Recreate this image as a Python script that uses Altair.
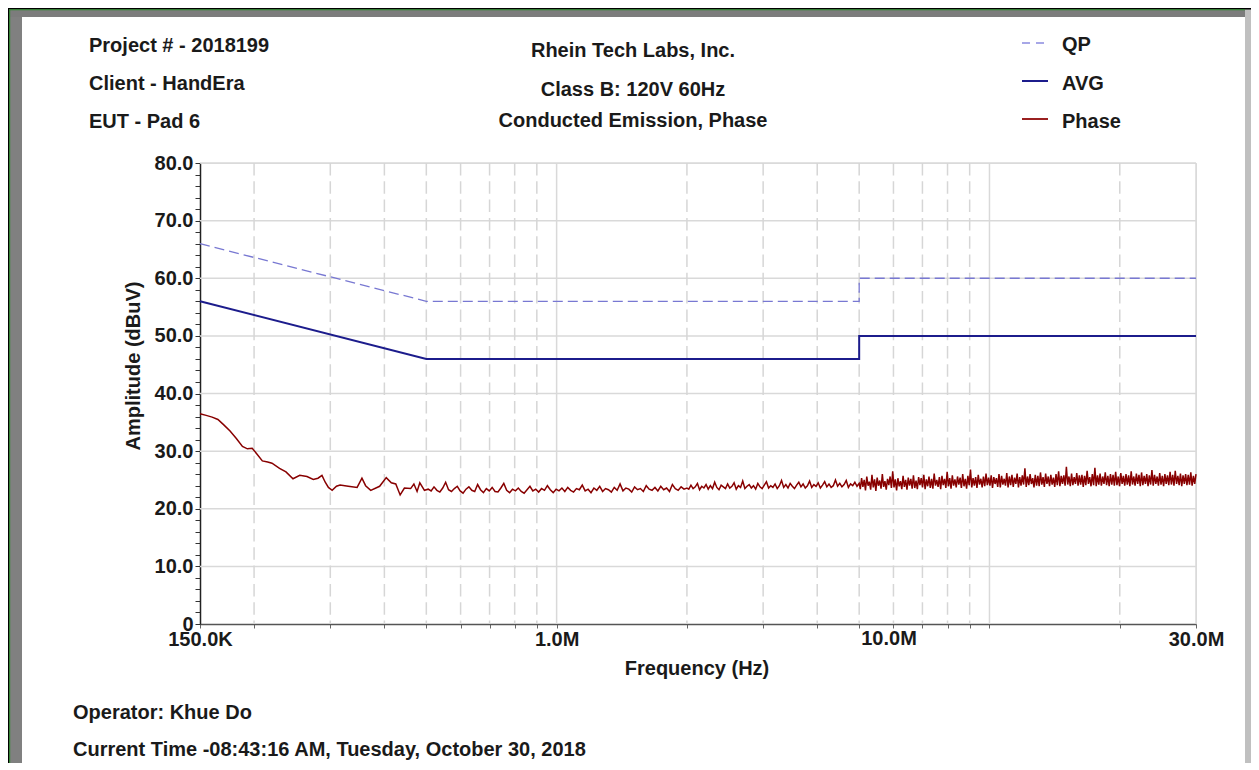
import altair as alt
import pandas as pd
import numpy as np

# ---------------- data ----------------
# limit lines (frequency in MHz, amplitude dBuV)
qp_freq = [0.15, 0.5, 5.0, 5.0, 30.0]
qp_val = [66.0, 56.0, 56.0, 60.0, 60.0]
avg_freq = [0.15, 0.5, 5.0, 5.0, 30.0]
avg_val = [56.0, 46.0, 46.0, 50.0, 50.0]

# measured phase trace, low-frequency part (explicit points)
phase_lo_freq = [0.150, 0.155, 0.160, 0.165, 0.170, 0.176, 0.182, 0.188, 0.193, 0.198,
                 0.203, 0.209, 0.215, 0.220, 0.229, 0.237, 0.246, 0.255, 0.265, 0.274,
                 0.281, 0.287, 0.292, 0.297, 0.303, 0.310, 0.316, 0.330, 0.346, 0.355,
                 0.362, 0.372, 0.390, 0.404, 0.415, 0.425, 0.435, 0.445, 0.460, 0.468,
                 0.476, 0.483, 0.495]
phase_lo_val = [36.5, 36.2, 35.9, 35.5, 34.6, 33.5, 32.2, 30.8, 30.4, 30.5,
                29.5, 28.3, 28.1, 27.9, 27.0, 26.4, 25.2, 25.8, 25.6, 25.1,
                25.3, 25.8, 24.6, 23.7, 23.2, 23.9, 24.1, 23.9, 23.7, 25.3,
                24.0, 23.2, 23.9, 25.4, 24.5, 24.3, 22.4, 23.6, 23.5, 24.3,
                23.0, 24.5, 23.2]

# sweep segments: (start MHz, end MHz) and values
seg_b_range = (0.505, 2.0)
seg_b_val = [23.4, 23.1, 23.8, 23.2, 22.9, 23.6, 24.6, 23.3, 23.0, 23.5,
             23.9, 23.1, 22.7, 23.4, 23.8, 23.2, 23.0, 24.2, 23.3, 22.8,
             23.5, 23.1, 23.7, 23.0, 22.9, 23.6, 24.4, 23.2, 22.8, 23.4,
             23.1, 23.6, 23.0, 22.7, 23.3, 23.9, 23.1, 23.4, 22.9, 23.5,
             23.2, 24.0, 23.3, 22.8, 23.4, 23.1, 23.6, 23.0, 23.7, 23.2,
             22.9, 23.5, 23.3, 24.1, 23.1, 23.4, 22.8, 23.6, 23.2, 23.9,
             23.0, 23.5, 23.3, 22.9, 23.7, 23.2, 24.3, 23.1, 23.6, 23.4,
             22.9, 23.8, 23.3, 23.5, 23.0, 24.0, 23.4, 23.2, 23.7, 23.1,
             23.9, 23.3, 23.6, 23.0, 24.2, 23.5, 23.2, 23.8, 23.4, 23.6]

seg_c_range = (2.02, 5.0)
seg_c_val = [23.4, 24.1, 23.5, 23.8, 24.4, 23.3, 23.9, 23.6, 24.2, 23.4,
             24.0, 23.5, 24.6, 23.7, 23.3, 24.1, 23.8, 23.5, 24.3, 23.6,
             23.9, 24.5, 23.4, 24.0, 23.7, 24.8, 23.5, 23.9, 24.2, 23.6,
             24.0, 23.4, 24.4, 23.8, 23.5, 24.1, 24.7, 23.6, 24.0, 23.7,
             24.3, 23.5, 24.0, 24.9, 23.7, 24.2, 23.6, 24.4, 23.9, 23.5,
             24.1, 24.6, 23.8, 24.3, 23.6, 24.0, 24.8, 23.7, 24.2, 23.9,
             24.5, 23.6, 24.1, 24.7, 23.8, 24.3, 23.7, 24.0, 25.0, 23.9,
             24.4, 23.8, 24.2, 24.9, 23.7, 24.3, 24.0, 24.6, 23.9, 24.4]

seg_d_range = (5.03, 30.0)
seg_d_val = [23.4, 25.3, 23.8, 25.0, 23.2, 25.6, 24.0, 24.7, 23.3, 25.9,
             23.7, 25.1, 23.1, 25.4, 24.0, 24.9, 23.5, 26.0, 23.8, 24.8,
             23.3, 25.2, 24.1, 25.6, 23.6, 26.5, 23.7, 25.1, 23.2, 25.3,
             23.9, 24.8, 23.4, 25.7, 23.8, 25.0, 23.3, 25.4, 24.0, 25.2,
             23.5, 25.8, 23.6, 24.9, 23.4, 25.5, 24.1, 25.3, 23.7, 25.9,
             23.4, 25.1, 23.9, 25.6, 23.6, 25.2, 23.5, 26.1, 24.0, 25.0,
             23.8, 25.5, 23.4, 25.7, 24.1, 25.2, 23.6, 26.4, 23.9, 25.3,
             23.5, 25.8, 24.0, 25.1, 23.7, 25.6, 24.2, 25.4, 23.6, 26.0,
             23.9, 25.2, 23.5, 25.7, 24.1, 26.8, 23.7, 25.3, 24.0, 25.5,
             23.6, 25.9, 24.2, 25.2, 23.7, 25.6, 23.9, 26.1, 24.1, 25.4,
             24.0, 25.8, 23.6, 25.5, 24.3, 25.3, 23.8, 26.0, 23.7, 25.7,
             24.2, 25.2, 24.0, 26.2, 23.7, 25.6, 24.1, 25.9, 23.8, 25.4,
             24.3, 26.1, 23.7, 25.5, 24.0, 25.8, 24.2, 27.0, 23.8, 25.6,
             24.1, 26.0, 24.3, 25.3, 23.7, 25.9, 24.0, 25.7, 23.9, 26.3,
             24.2, 25.5, 23.8, 26.1, 24.3, 25.6, 23.9, 25.9, 24.2, 25.4,
             23.8, 26.0, 24.1, 26.5, 23.9, 25.7, 24.3, 25.8, 24.0, 27.3,
             24.2, 25.6, 23.9, 26.1, 24.1, 25.5, 24.3, 26.2, 24.0, 25.8,
             24.2, 25.9, 23.8, 25.7, 24.1, 26.6, 24.3, 25.5, 23.9, 26.0,
             24.1, 27.1, 23.9, 25.8, 24.2, 26.1, 24.0, 25.6, 24.3, 26.3,
             24.1, 25.7, 23.9, 26.0, 24.2, 25.9, 24.0, 26.4, 24.1, 25.6,
             23.9, 26.2, 24.3, 25.7, 24.0, 26.0, 24.2, 25.8, 23.9, 26.5,
             24.2, 25.6, 24.0, 26.1, 24.3, 25.9, 23.9, 26.3, 24.1, 25.7,
             24.3, 26.0, 23.9, 25.8, 24.2, 26.7, 24.0, 25.9, 24.3, 25.6,
             24.0, 26.2, 24.2, 25.7, 23.9, 26.0, 24.3, 25.8, 24.1, 26.4,
             24.2, 25.9, 24.0, 26.6, 24.3, 25.7, 24.1, 26.1, 23.9, 25.8,
             24.3, 26.0, 24.1, 25.9, 24.2, 26.3, 24.0, 25.7, 24.3, 26.0]

# axis / grid values
x_tick_vals = [0.15, 0.2, 0.3, 0.4, 0.5, 0.6, 0.7, 0.8, 0.9, 1.0,
               2.0, 3.0, 4.0, 5.0, 6.0, 7.0, 8.0, 9.0, 10.0, 20.0, 30.0]
x_tick_labels = {0.15: "150.0K", 1.0: "1.0M", 30.0: "30.0M"}
label_10m = "10.0M"          # printed by the source software left of its gridline
x_grid_dashed = [0.2, 0.3, 0.4, 0.5, 0.6, 0.7, 0.8, 0.9,
                 2.0, 3.0, 4.0, 5.0, 6.0, 7.0, 8.0, 9.0, 20.0]
x_grid_solid = [1.0, 10.0, 30.0]
y_grid = [10, 20, 30, 40, 50, 60, 70, 80]
y_tick_vals = list(range(0, 82, 2))

header_left = ["Project # - 2018199", "Client - HandEra", "EUT - Pad 6"]
header_center = ["Rhein Tech Labs, Inc.", "Class B: 120V 60Hz", "Conducted Emission, Phase"]
legend_names = ["QP", "AVG", "Phase"]
footer = ["Operator: Khue Do", "Current Time -08:43:16 AM, Tuesday, October 30, 2018"]

# ---------------- build tables ----------------
def seg(rng, vals):
    f = np.geomspace(rng[0], rng[1], len(vals))
    return list(f), list(vals)

pf, pv = list(phase_lo_freq), list(phase_lo_val)
for r, v in [(seg_b_range, seg_b_val), (seg_c_range, seg_c_val), (seg_d_range, seg_d_val)]:
    f2, v2 = seg(r, v)
    pf += f2
    pv += v2
phase_df = pd.DataFrame({"f": pf, "v": pv, "i": range(len(pf))})
qp_df = pd.DataFrame({"f": qp_freq, "v": qp_val, "i": range(len(qp_freq))})
avg_df = pd.DataFrame({"f": avg_freq, "v": avg_val, "i": range(len(avg_freq))})

W, H = 996, 461
X0, Y0 = 200, 163  # page position of plot origin
FONT = "Liberation Sans"
FS = 20
TXT = "#1a1a1a"


def px(x):
    return x - X0


def py(y):
    return y - Y0


one = pd.DataFrame({"a": [0]})

xscale = alt.Scale(type="log", domain=[0.15, 30], nice=False)
yscale = alt.Scale(domain=[0, 80], nice=False, zero=False)

label_expr = " : ".join(
    [f"datum.value == {k} ? '{v}'" for k, v in x_tick_labels.items()]) + " : ''"

X_TICK = 4
X_LPAD = 1
x_axis = alt.Axis(values=x_tick_vals, labelExpr=label_expr, title=None, grid=False,
                  labelFont=FONT, labelFontWeight="bold", labelFontSize=FS, labelColor=TXT,
                  tickSize=X_TICK, tickColor="#666666", tickWidth=1,
                  domainColor="#555555", domainWidth=1.5, labelPadding=X_LPAD,
                  labelFlush=False, labelOverlap=False)
y_axis = alt.Axis(values=y_tick_vals,
                  labelExpr="datum.value % 10 == 0 ? (datum.value == 0 ? '0' : format(datum.value, '.1f')) : ''",
                  title=None, grid=False,
                  labelFont=FONT, labelFontWeight="bold", labelFontSize=FS, labelColor=TXT,
                  tickSize=5, tickColor="#333333", tickWidth=1,
                  domainColor="#222222", domainWidth=1.5, labelPadding=2,
                  labelFlush=False, labelOverlap=False)

XE = lambda: alt.X("f:Q", scale=xscale, axis=x_axis)
YE = lambda: alt.Y("v:Q", scale=yscale, axis=y_axis)

layers = []

# frame
def rect(x1, x2, y1, y2, color):
    return alt.Chart(one).mark_rect(color=color).encode(
        x=alt.value(x1), x2=alt.value(x2), y=alt.value(y1), y2=alt.value(y2))

CW = 1243
CH = 755
left_px = -X0 + 8
right_px = CW - (X0 - 8)
top_px = -Y0 + 8
bot_px = CH - (Y0 - 8)
layers += [
    rect(left_px, left_px + 12 + 2, top_px, bot_px, "#808080"),
    rect(left_px, right_px, top_px, top_px + 9, "#7c7c7c"),
    rect(right_px - 6, right_px, top_px + 2, bot_px, "#c0c0c0"),
    rect(left_px, left_px + 1.2, top_px, bot_px, "#000000"),
    rect(left_px + 1.2, left_px + 2.2, top_px + 2, bot_px, "#2a8a2a"),
    rect(left_px, right_px, top_px, top_px + 1.2, "#000000"),
    rect(left_px + 1.2, right_px - 6, top_px + 1.2, top_px + 2.2, "#2a8a2a"),
]

# grid
layers.append(alt.Chart(pd.DataFrame({"v": y_grid})).mark_rule(
    color="#d9d9d9", strokeWidth=1.5).encode(y=YE()))
layers.append(alt.Chart(pd.DataFrame({"f": x_grid_dashed})).mark_rule(
    color="#d6d6d6", strokeWidth=1.5, strokeDash=[12.5, 5.8]).encode(x=XE()))
layers.append(alt.Chart(pd.DataFrame({"f": x_grid_solid})).mark_rule(
    color="#d9d9d9", strokeWidth=1.5).encode(x=XE()))

# limit lines
layers.append(alt.Chart(qp_df).mark_line(
    color="#7878d2", strokeWidth=1.3, strokeDash=[10, 5]).encode(
    x=XE(), y=YE(), order="i:Q"))
layers.append(alt.Chart(avg_df).mark_line(
    color="#1c1c8c", strokeWidth=2).encode(
    x=XE(), y=YE(), order="i:Q"))

# phase trace
layers.append(alt.Chart(phase_df).mark_line(
    color="#880000", strokeWidth=1.5).encode(
    x=XE(), y=YE(), order="i:Q"))


def text(s, x, y, align="left", angle=None, baseline="alphabetic"):
    kw = dict(text=s, font=FONT, fontWeight="bold", fontSize=FS, color=TXT,
              align=align, baseline=baseline)
    if angle is not None:
        kw["angle"] = angle
    return alt.Chart(one).mark_text(**kw).encode(x=alt.value(x), y=alt.value(y))

# headers
for s, yb in zip(header_left, [52, 90, 128]):
    layers.append(text(s, px(89), py(yb)))
for s, yb in zip(header_center, [57, 96, 127]):
    layers.append(text(s, px(633), py(yb), align="center"))

# legend
leg_styles = [dict(color="#8a8ae0", strokeWidth=1.3, strokeDash=[8, 6]),
              dict(color="#1c1c8c", strokeWidth=2),
              dict(color="#9a2020", strokeWidth=2)]
for name, st, yl, yb in zip(legend_names, leg_styles, [43, 81, 119], [51, 90, 128]):
    layers.append(alt.Chart(one).mark_rule(**st).encode(
        x=alt.value(px(1022)), x2=alt.value(px(1048)), y=alt.value(py(yl))))
    layers.append(text(name, px(1062), py(yb)))

# 10.0M tick label as placed in the reference
layers.append(text(label_10m, px(889), H + X_TICK + X_LPAD, align="center", baseline="top"))

# axis titles
layers.append(text("Frequency (Hz)", px(697), py(675), align="center"))
layers.append(text("Amplitude (dBuV)", px(140), py(366), align="center", angle=270))

# footer
layers.append(text(footer[0], px(73), py(719)))
layers.append(text(footer[1], px(73), py(756)))

chart = alt.layer(*layers).properties(
    width=W, height=H,
    padding={"left": X0 - 8, "top": Y0 - 8, "right": CW - (X0 - 8) - W,
             "bottom": CH - (Y0 - 8) - H},
    autosize=alt.AutoSizeParams(type="none"),
).configure_view(stroke=None).configure(background="white")

chart.save("out.html", embed_options={"renderer": "svg", "actions": False})
